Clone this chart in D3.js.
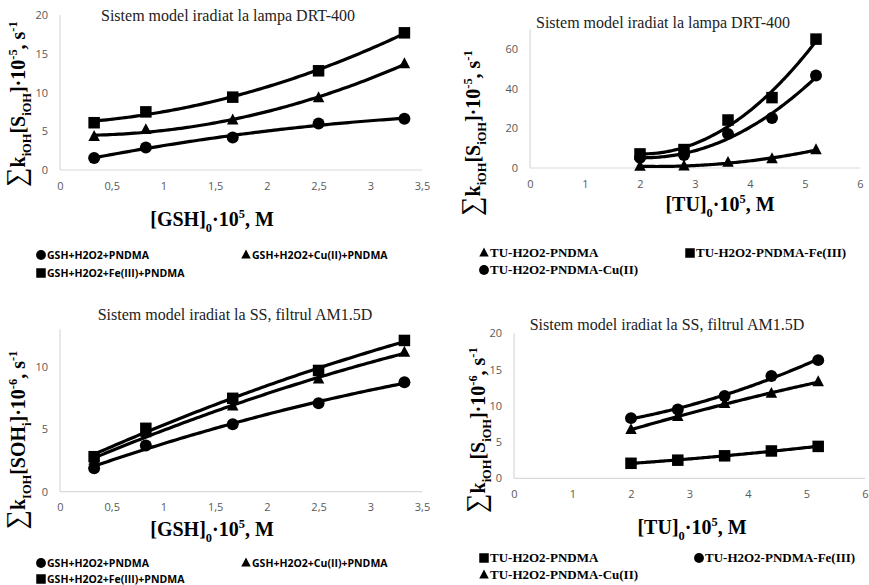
<!DOCTYPE html>
<html><head><meta charset="utf-8">
<script src="https://cdn.jsdelivr.net/npm/d3@7"></script>
<style>body{margin:0;background:#fff}svg{display:block}</style>
</head><body>
<svg id="c" width="869" height="585"></svg>
<script>
// ---- data ----
const gshX = [0.33, 0.83, 1.67, 2.5, 3.33];
const tuX = [2, 2.8, 3.6, 4.4, 5.2];
const p1Circle = [1.55, 2.9, 4.2, 6.0, 6.6];
const p1Triangle = [4.3, 5.2, 6.45, 9.3, 13.7];
const p1Square = [6.1, 7.5, 9.4, 12.8, 17.7];
const p2Triangle = [0.8, 1.0, 2.8, 4.6, 9.2];
const p2Square = [7.1, 9.3, 24.2, 35.5, 65.0];
const p2Circle = [5.2, 6.6, 17.2, 25.2, 46.6];
const p3Circle = [1.87, 3.7, 5.4, 7.07, 8.75];
const p3Triangle = [2.5, 4.7, 6.85, 9.0, 11.15];
const p3Square = [2.8, 5.07, 7.47, 9.7, 12.1];
const p4Square = [2.07, 2.5, 3.1, 3.77, 4.4];
const p4Circle = [8.3, 9.5, 11.35, 14.1, 16.3];
const p4Triangle = [6.7, 8.5, 10.3, 11.7, 13.3];
const gshTicks = [0, 0.5, 1, 1.5, 2, 2.5, 3, 3.5];
const tuTicks = [0, 1, 2, 3, 4, 5, 6];
const titleLamp = "Sistem model iradiat la lampa DRT-400";
const titleSS = "Sistem model iradiat la SS, filtrul AM1.5D";
const gshLegend = ["GSH+H2O2+PNDMA", "GSH+H2O2+Cu(II)+PNDMA", "GSH+H2O2+Fe(III)+PNDMA"];
const tu1Legend = ["TU-H2O2-PNDMA", "TU-H2O2-PNDMA-Fe(III)", "TU-H2O2-PNDMA-Cu(II)"];
const tu2Legend = ["TU-H2O2-PNDMA", "TU-H2O2-PNDMA-Fe(III)", "TU-H2O2-PNDMA-Cu(II)"];

const svg = d3.select("#c");
const fmt = v => String(v).replace(".", ",");

function polyfit2(xs, ys) {
  let S = [0,0,0,0,0], T = [0,0,0];
  xs.forEach((x,i) => { for (let k=0;k<5;k++) S[k]+=Math.pow(x,k); for (let k=0;k<3;k++) T[k]+=ys[i]*Math.pow(x,k); });
  const A = [[S[0],S[1],S[2],T[0]],[S[1],S[2],S[3],T[1]],[S[2],S[3],S[4],T[2]]];
  for (let i=0;i<3;i++){ for (let j=i+1;j<3;j++){ const f=A[j][i]/A[i][i]; for(let k=i;k<4;k++) A[j][k]-=f*A[i][k]; } }
  const c=[0,0,0];
  for (let i=2;i>=0;i--){ let s=A[i][3]; for(let k=i+1;k<3;k++) s-=A[i][k]*c[k]; c[i]=s/A[i][i]; }
  return x => c[0]+c[1]*x+c[2]*x*x;
}

function rich(g, segs, base, opts) {
  const t = g.append("text").attr("font-family", opts.family).attr("font-weight", "bold")
    .attr("fill", "#000").attr("text-anchor", opts.anchor || "middle");
  let cur = 0;
  segs.forEach(([s, type]) => {
    let size = base, shift = 0;
    if (type === "sub") { size = base*0.62; shift = base*0.3; }
    if (type === "sup") { size = base*0.62; shift = -base*0.42; }
    if (type === "big") { size = base*1.35; }
    const ts = t.append("tspan").attr("font-size", size).text(s);
    if (type === "big") ts.attr("font-weight", "normal");
    ts.attr("dy", shift - cur); cur = shift;
  });
  return t;
}

function marker(g, shape, x, y, s) {
  if (shape === "circle") g.append("circle").attr("cx", x).attr("cy", y).attr("r", s*0.52).attr("fill", "#000");
  else if (shape === "square") g.append("rect").attr("x", x-s/2).attr("y", y-s/2).attr("width", s).attr("height", s).attr("fill", "#000");
  else { const h = s*0.95; g.append("path").attr("d", `M${x},${y-h*0.6}L${x+s/2},${y+h*0.4}L${x-s/2},${y+h*0.4}Z`).attr("fill", "#000"); }
}

function panel(cfg) {
  const g = svg.append("g");
  const x = d3.scaleLinear().domain(cfg.xd).range(cfg.xr);
  const y = d3.scaleLinear().domain(cfg.yd).range(cfg.yr);
  g.append("line").attr("x1", cfg.xr[0]).attr("x2", cfg.xr[1]).attr("y1", cfg.yr[0]).attr("y2", cfg.yr[0]).attr("stroke", "#d9d9d9").attr("stroke-width", 1.2);
  g.append("line").attr("x1", cfg.xr[0]).attr("x2", cfg.xr[0]).attr("y1", cfg.yr[0]).attr("y2", cfg.yr[1]).attr("stroke", "#d9d9d9").attr("stroke-width", 1.2);
  const xa = d3.axisBottom(x).tickValues(cfg.xt).tickFormat(fmt).tickSize(0).tickPadding(12);
  const ya = d3.axisLeft(y).tickValues(cfg.yt).tickFormat(fmt).tickSize(0).tickPadding(12);
  const gx = g.append("g").attr("transform", `translate(0,${cfg.yr[0]})`).call(xa);
  const gy = g.append("g").attr("transform", `translate(${cfg.xr[0]},0)`).call(ya);
  [gx, gy].forEach(a => { a.select(".domain").remove(); a.selectAll("text").attr("font-family", "Open Sans, sans-serif").attr("font-size", 11).attr("fill", "#595959"); });
  cfg.series.forEach(s => {
    const f = polyfit2(cfg.xs, s.v);
    const pts = d3.range(0, 101).map(i => { const xv = cfg.xs[0] + (cfg.xs[cfg.xs.length-1]-cfg.xs[0])*i/100; return [x(xv), y(f(xv))]; });
    g.append("path").attr("d", d3.line()(pts)).attr("fill", "none").attr("stroke", "#000").attr("stroke-width", 3.2);
    s.v.forEach((v, i) => marker(g, s.shape, x(cfg.xs[i]), y(v), 11.5));
  });
  g.append("text").attr("x", cfg.title[1]).attr("y", cfg.title[2]).attr("text-anchor", "middle")
    .attr("font-family", "Liberation Serif, serif").attr("font-size", 16).attr("fill", "#222").text(cfg.title[0]);
  rich(g, cfg.xtitle, 20, {family: "Liberation Serif, serif"}).attr("x", cfg.xtPos[0]).attr("y", cfg.xtPos[1]);
  rich(g, cfg.ytitle, 20, {family: "Liberation Serif, serif"}).attr("transform", `translate(${cfg.ytPos[0]},${cfg.ytPos[1]}) rotate(-90)`);
  cfg.legend.forEach((L) => {
    marker(g, L.shape, L.x, L.y - 4, 9.5);
    g.append("text").attr("x", L.x + 6).attr("y", L.y).attr("font-family", cfg.legFont).attr("font-weight", "bold")
      .attr("font-size", cfg.legSize).attr("fill", "#000").text(L.t);
  });
}

const ytA = (p) => [["∑","big"],["k","n"],["iOH","sub"],["[S","n"],["iOH","sub"],["]·10","n"],[p,"sup"],[", s","n"],["-1","sup"]];
const ytB = [["∑","big"],["k","n"],["IOH","sub"],["[SOH","n"],["i","sub"],["]·10","n"],["-6","sup"],[", s","n"],["-1","sup"]];
const xtG = [["[GSH]","n"],["0","sub"],["·10","n"],["5","sup"],[", M","n"]];
const xtT = [["[TU]","n"],["0","sub"],["·10","n"],["5","sup"],[", M","n"]];
const calibri = "Open Sans, sans-serif";
const serif = "Liberation Serif, serif";

panel({xd:[0,3.5], xr:[60,422], yd:[0,20], yr:[170,15], xt:gshTicks, yt:[0,5,10,15,20], xs:gshX,
  series:[{v:p1Circle, shape:"circle"},{v:p1Triangle, shape:"triangle"},{v:p1Square, shape:"square"}],
  title:[titleLamp, 228, 21], xtitle:xtG, xtPos:[212, 226], ytitle:ytA("-5"), ytPos:[25, 104],
  legFont: calibri, legSize: 10.5,
  legend:[{shape:"circle", t:gshLegend[0], x:41, y:259},{shape:"triangle", t:gshLegend[1], x:246, y:259},{shape:"square", t:gshLegend[2], x:41, y:277}]});

panel({xd:[0,6], xr:[530,860], yd:[0,70], yr:[168,29.2], xt:tuTicks, yt:[0,20,40,60], xs:tuX,
  series:[{v:p2Triangle, shape:"triangle"},{v:p2Square, shape:"square"},{v:p2Circle, shape:"circle"}],
  title:[titleLamp, 663, 28], xtitle:xtT, xtPos:[720, 211], ytitle:ytA("-5"), ytPos:[480, 133],
  legFont: serif, legSize: 13,
  legend:[{shape:"triangle", t:tu1Legend[0], x:484, y:257},{shape:"square", t:tu1Legend[1], x:690, y:257},{shape:"circle", t:tu1Legend[2], x:484, y:274}]});

panel({xd:[0,3.5], xr:[60,422], yd:[0,13], yr:[491.7,329.2], xt:gshTicks, yt:[0,5,10], xs:gshX,
  series:[{v:p3Circle, shape:"circle"},{v:p3Triangle, shape:"triangle"},{v:p3Square, shape:"square"}],
  title:[titleSS, 235, 320], xtitle:xtG, xtPos:[212, 536], ytitle:ytB, ytPos:[25, 440],
  legFont: calibri, legSize: 10.5,
  legend:[{shape:"circle", t:gshLegend[0], x:41, y:567},{shape:"triangle", t:gshLegend[1], x:246, y:567},{shape:"square", t:gshLegend[2], x:41, y:583}]});

panel({xd:[0,6], xr:[514,865], yd:[0,20], yr:[478.3,333.3], xt:tuTicks, yt:[0,5,10,15,20], xs:tuX,
  series:[{v:p4Square, shape:"square"},{v:p4Circle, shape:"circle"},{v:p4Triangle, shape:"triangle"}],
  title:[titleSS, 667, 330], xtitle:xtT, xtPos:[692, 534], ytitle:ytA("-6"), ytPos:[485, 430],
  legFont: serif, legSize: 13,
  legend:[{shape:"square", t:tu2Legend[0], x:484, y:562},{shape:"circle", t:tu2Legend[1], x:699, y:562},{shape:"triangle", t:tu2Legend[2], x:484, y:579}]});
</script>
</body></html>
